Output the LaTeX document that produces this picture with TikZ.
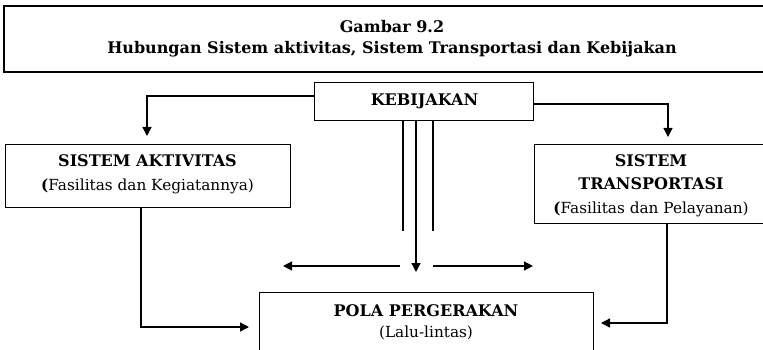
\documentclass[tikz,border=0pt]{standalone}
\usepackage{fontspec}
\setmainfont{DejaVu Serif}
\usetikzlibrary{arrows.meta}
\newcommand{\bfs}{\fontsize{16}{24}\selectfont\bfseries}
\newcommand{\nfs}{\fontsize{15.3}{24}\selectfont\mdseries}
\begin{document}
\begin{tikzpicture}[x=1pt,y=1pt,
  box/.style={draw=black, line width=1.2pt, fill=white, inner sep=0pt},
  conn/.style={draw=black, line width=1.3pt},
  arr/.style={conn, -{Triangle[length=9pt,width=9pt]}},
  lbl/.style={align=center, inner sep=0pt}
]
\clip (0,0) rectangle (763,-350);
\fill[white] (0,0) rectangle (763,-350);
% title
\node[box, line width=2pt, minimum width=780pt, minimum height=66pt, anchor=north west] (title) at (3,-5) {};
\node[lbl, font=\fontsize{16}{21}\selectfont\bfseries] (titletext) at (392,-38.5) {Gambar 9.2\\Hubungan Sistem aktivitas, Sistem Transportasi dan Kebijakan};
% boxes
\node[box, minimum width=219pt, minimum height=38pt, anchor=north west] (keb) at (314,-82) {};
\node[lbl, font=\bfs] (kebt) at (424.5,-101) {KEBIJAKAN};
\node[box, minimum width=285pt, minimum height=63pt, anchor=north west] (akt) at (5,-144) {};
\node[lbl, font=\fontsize{16}{24}\selectfont] (aktt) at (147.5,-174.5) {{\bfs SISTEM AKTIVITAS}\\{\nfs\textbf{(}Fasilitas dan Kegiatannya)}};
\node[box, minimum width=234pt, minimum height=79pt, anchor=north west] (tra) at (534,-144) {};
\node[lbl, font=\fontsize{16}{23.5}\selectfont] (trat) at (651,-185.5) {{\bfs SISTEM}\\{\bfs TRANSPORTASI}\\{\nfs\textbf{(}Fasilitas dan Pelayanan)}};
\node[box, minimum width=334pt, minimum height=62pt, anchor=north west] (pola) at (259,-292) {};
\node[lbl, font=\fontsize{16}{21}\selectfont] (polat) at (426,-322) {{\bfs POLA PERGERAKAN}\\{\nfs (Lalu-lintas)}};
% coordinates
\coordinate (c1) at (147,-96);
\coordinate (t1) at (147,-136);
\coordinate (c2) at (668,-104);
\coordinate (t2) at (668,-137);
\coordinate (c3) at (141,-327);
\coordinate (t3) at (249,-327);
\coordinate (c4) at (667,-323);
\coordinate (t4) at (601,-323);
\coordinate (v1) at (403,-231);
\coordinate (v2) at (416,-272);
\coordinate (v3) at (433,-231);
\coordinate (hl0) at (400,-266);
\coordinate (hl1) at (283,-266);
\coordinate (hr0) at (433,-266);
\coordinate (hr1) at (533,-266);
% connectors
\draw[arr] (keb.west |- c1) -- (c1) -- (t1);
\draw[arr] (keb.east |- c2) -- (c2) -- (t2);
\draw[arr] (akt.south -| c3) -- (c3) -- (t3);
\draw[arr] (tra.south -| c4) -- (c4) -- (t4);
\draw[conn] (keb.south -| v1) -- (v1);
\draw[conn] (keb.south -| v3) -- (v3);
\draw[arr] (keb.south -| v2) -- (v2);
\draw[arr] (hl0) -- (hl1);
\draw[arr] (hr0) -- (hr1);
\end{tikzpicture}
\end{document}
